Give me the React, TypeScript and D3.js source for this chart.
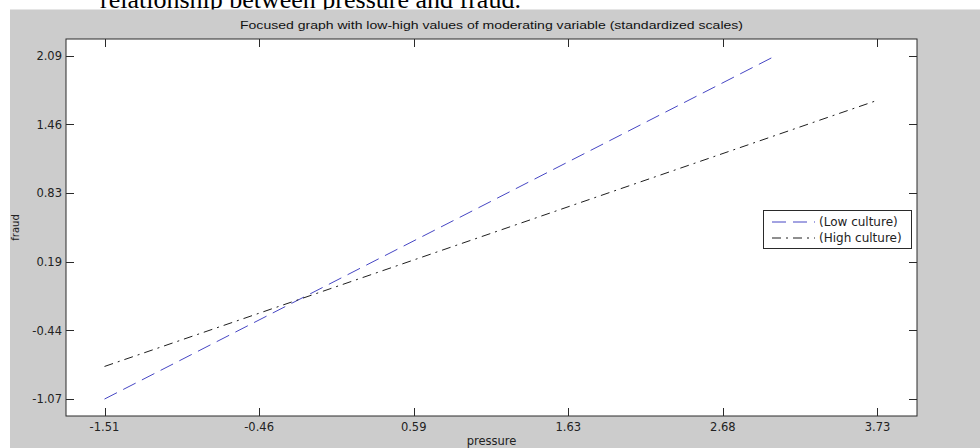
import React from "react";
import * as d3 from "d3";

const captionText = "relationship between pressure and fraud.";
const chartTitle = "Focused graph with low-high values of moderating variable (standardized scales)";
const xLabel = "pressure";
const yLabel = "fraud";

const xTickValues = [-1.51, -0.462, 0.586, 1.634, 2.682, 3.73];
const xTickLabels = ["-1.51", "-0.46", "0.59", "1.63", "2.68", "3.73"];
const yTickValues = [-1.07, -0.438, 0.194, 0.826, 1.458, 2.09];
const yTickLabels = ["-1.07", "-0.44", "0.19", "0.83", "1.46", "2.09"];

const seriesNames = ["(Low culture)", "(High culture)"];
const lowCultureX = [-1.51, 3.04];
const lowCultureY = [-1.07, 2.09];
const highCultureX = [-1.51, 3.73];
const highCultureY = [-0.77, 1.68];

const W = 980, H = 448;
const L = 66, R = 917, T = 39, B = 416;

export default function App() {
  const x = d3.scaleLinear().domain([-1.771, 3.998]).range([L, R]);
  const y = d3.scaleLinear().domain([-1.226, 2.244]).range([B, T]);
  const line = d3.line<[number, number]>().x(d => x(d[0])).y(d => y(d[1]));
  const low: [number, number][] = lowCultureX.map((v, i) => [v, lowCultureY[i]]);
  const high: [number, number][] = highCultureX.map((v, i) => [v, highCultureY[i]]);
  const tk = 8;
  const axisCol = "#2a2a2a";
  const font = "DejaVu Sans, sans-serif";
  const blue = "#4646c4";
  const dark = "#1e1e1e";
  const lowDash = "14,7";
  const highDash = "9,5,2,5";
  return (
    <svg width={W} height={H} style={{ position: "absolute", left: 0, top: 0 }}>
      <rect x={0} y={0} width={W} height={H} fill="#ffffff" />
      <text x={100} y={7.5} fontFamily="Liberation Serif, Times New Roman, serif" fontSize={26} fill="#000">{captionText}</text>
      <rect x={10} y={9.5} width={W - 10} height={H - 9.5} fill="#cccccc" />
      <text x={(L + R) / 2} y={29} textAnchor="middle" fontFamily="Liberation Sans, Arial, sans-serif" fontSize={11.5} fill="#111" textLength={503} lengthAdjust="spacingAndGlyphs">{chartTitle}</text>
      <rect x={L} y={T} width={R - L} height={B - T} fill="#ffffff" stroke={axisCol} strokeWidth={1} />
      {xTickValues.map((v, i) => (
        <g key={"x" + i}>
          <line x1={Math.round(x(v)) + 0.5} x2={Math.round(x(v)) + 0.5} y1={B} y2={B - tk} stroke={axisCol} />
          <line x1={Math.round(x(v)) + 0.5} x2={Math.round(x(v)) + 0.5} y1={T} y2={T + tk} stroke={axisCol} />
          <text x={x(v)} y={431} textAnchor="middle" fontFamily={font} fontSize={11.5} fill="#222">{xTickLabels[i]}</text>
        </g>
      ))}
      {yTickValues.map((v, i) => (
        <g key={"y" + i}>
          <line x1={L} x2={L + tk} y1={Math.round(y(v)) + 0.5} y2={Math.round(y(v)) + 0.5} stroke={axisCol} />
          <line x1={R} x2={R - tk} y1={Math.round(y(v)) + 0.5} y2={Math.round(y(v)) + 0.5} stroke={axisCol} />
          <text x={62} y={y(v)} dy="0.36em" textAnchor="end" fontFamily={font} fontSize={11.5} fill="#222">{yTickLabels[i]}</text>
        </g>
      ))}
      <text x={(L + R) / 2} y={445} textAnchor="middle" fontFamily={font} fontSize={11.5} fill="#222">{xLabel}</text>
      <text transform={`translate(19,${(T + B) / 2}) rotate(-90)`} textAnchor="middle" fontFamily={font} fontSize={10} fill="#222">{yLabel}</text>
      <path d={line(low) || ""} fill="none" stroke={blue} strokeWidth={1} strokeDasharray={lowDash} />
      <path d={line(high) || ""} fill="none" stroke={dark} strokeWidth={1} strokeDasharray={highDash} />
      <rect x={763.5} y={210.5} width={148} height={38} fill="#ffffff" stroke={axisCol} strokeWidth={1} />
      <line x1={772} x2={815} y1={222} y2={222} stroke={blue} strokeDasharray={lowDash} />
      <line x1={772} x2={815} y1={238} y2={238} stroke={dark} strokeDasharray={highDash} />
      <text x={819} y={222} dy="0.36em" fontFamily={font} fontSize={12} fill="#222">{seriesNames[0]}</text>
      <text x={819} y={238} dy="0.36em" fontFamily={font} fontSize={12} fill="#222">{seriesNames[1]}</text>
    </svg>
  );
}
